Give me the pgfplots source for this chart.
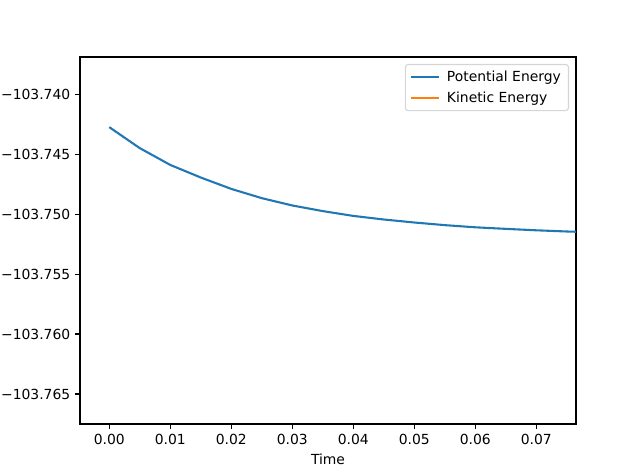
\documentclass[border=0pt]{standalone}
\usepackage{pgfplots}
\pgfplotsset{compat=1.18}
\usepackage{fontspec}
\setmainfont{DejaVu Sans}
\definecolor{mplblue}{HTML}{1F77B4}
\definecolor{mplorange}{HTML}{FF7F0E}
\definecolor{legframe}{HTML}{D5D5D5}
\begin{document}
\begin{tikzpicture}[font=\fontsize{10bp}{12bp}\selectfont]
\path[use as bounding box] (0,0) rectangle (460.8bp,342.72bp);
\begin{axis}[
  at={(57.6bp,37.44bp)}, anchor=south west,
  scale only axis, width=357.12bp, height=264.24bp,
  xmin=-0.0048, xmax=0.0765, ymin=-103.7675, ymax=-103.7369,
  axis line style={line width=0.8bp},
  every tick/.style={black, line width=0.8bp},
  major tick length=3.5bp,
  tick align=outside,
  tick pos=left,
  xtick={0,0.01,0.02,0.03,0.04,0.05,0.06,0.07},
  xticklabels={0.00,0.01,0.02,0.03,0.04,0.05,0.06,0.07},
  ytick={-103.765,-103.760,-103.755,-103.750,-103.745,-103.740},
  yticklabels={−103.765,−103.760,−103.755,−103.750,−103.745,−103.740},
  scaled ticks=false,
  xlabel={Time},
  legend cell align=left,
  legend style={at={(rel axis cs:0.986,0.981)}, anchor=north east,
    draw=legframe, rounded corners=2bp, line width=0.8bp,
    inner xsep=3.5bp, inner ysep=2.5bp, row sep=2bp, column sep=3bp,
    font=\fontsize{10bp}{12bp}\selectfont},
  legend image code/.code={\draw[#1] (0bp,0bp) -- (20bp,0bp);},
]
\addplot[mplblue, line width=1.5bp] coordinates {
(0.000,-103.74275) (0.005,-103.74450) (0.010,-103.74590) (0.015,-103.74695)
(0.020,-103.74790) (0.025,-103.74867) (0.030,-103.74928) (0.035,-103.74975)
(0.040,-103.75015) (0.045,-103.75045) (0.050,-103.75070) (0.055,-103.75092)
(0.060,-103.75110) (0.065,-103.75123) (0.070,-103.75135) (0.075,-103.75145)
(0.080,-103.75152)
};
\addlegendentry{Potential Energy}
\addlegendimage{mplorange, line width=1.5bp}
\addlegendentry{Kinetic Energy}
\end{axis}
\end{tikzpicture}
\end{document}
